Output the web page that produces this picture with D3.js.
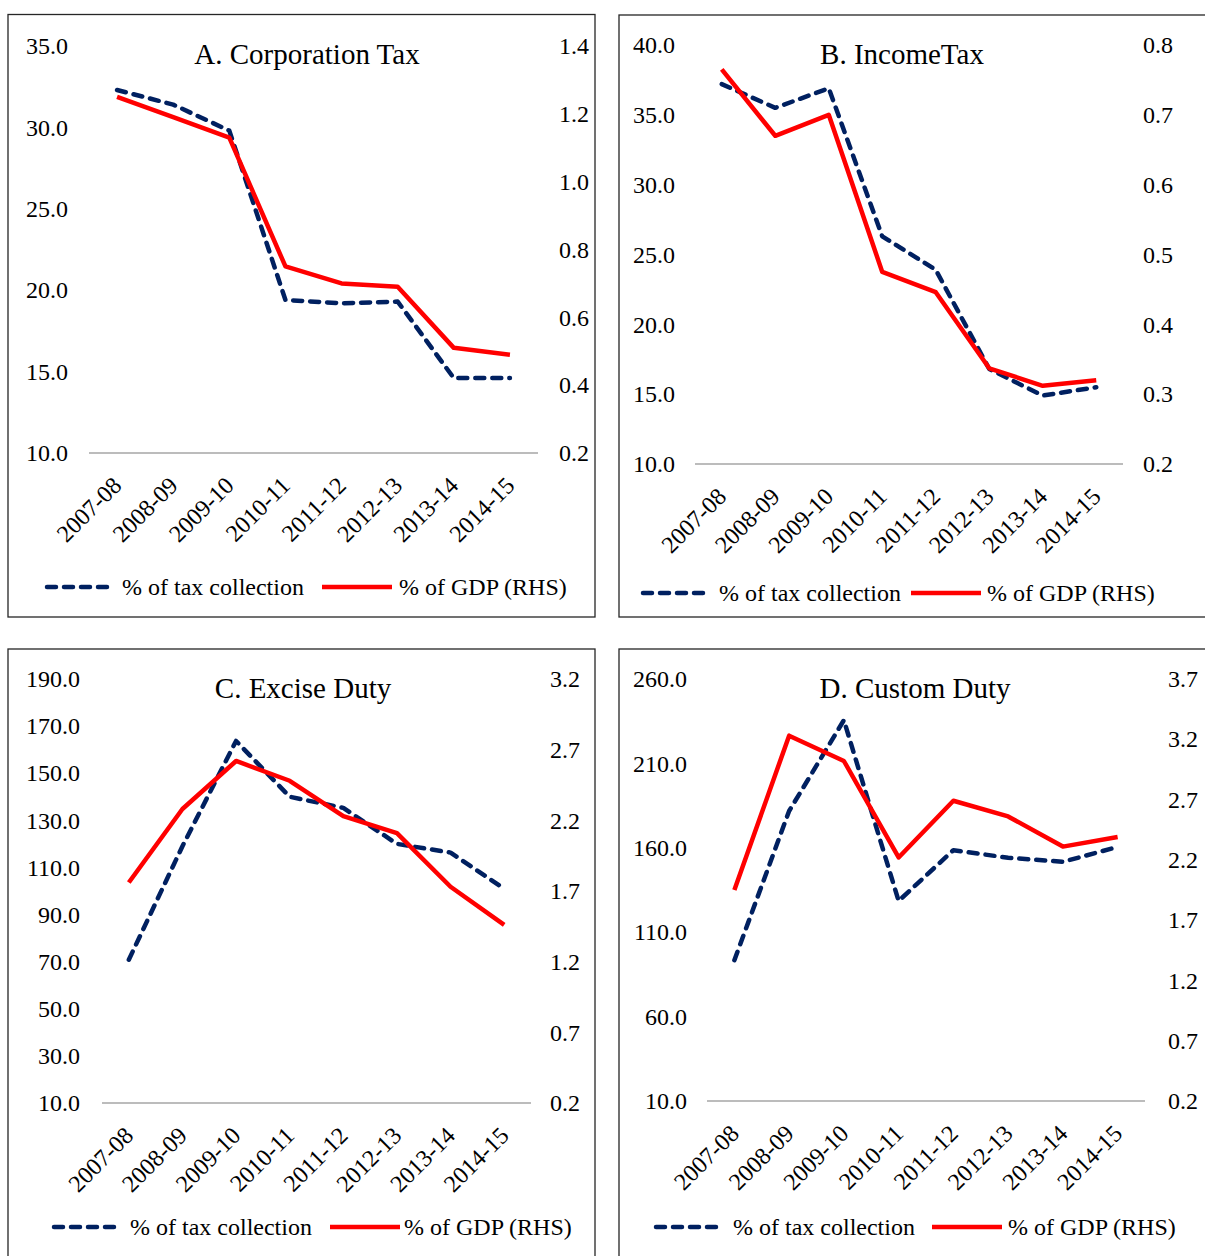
<!DOCTYPE html>
<html>
<head>
<meta charset="utf-8">
<script src="https://cdnjs.cloudflare.com/ajax/libs/d3/7.8.5/d3.min.js"></script>
<style>
  body { margin: 0; background: #fff; }
  svg { display: block; font-family: "Liberation Serif", "Times New Roman", serif; }
  .box { fill: none; stroke: #262626; stroke-width: 1.3; }
  .base { stroke: #a6a6a6; stroke-width: 1.6; }
  .tick text { font-size: 24px; fill: #000; }
  .cat text { font-size: 24px; fill: #000; }
  .title { font-size: 29px; text-anchor: middle; }
  .leg { font-size: 24px; }
  .share { fill: none; stroke: #002060; stroke-width: 4.5; stroke-dasharray: 9 8; stroke-linecap: round; stroke-linejoin: round; }
  .gdp { fill: none; stroke: #ff0000; stroke-width: 4.5; stroke-linejoin: round; }
</style>
</head>
<body>
<script>
//categories
var years = ["2007-08", "2008-09", "2009-10", "2010-11", "2011-12", "2012-13", "2013-14", "2014-15"];

//A. corporation tax
var corpShare = [32.3, 31.4, 29.8, 19.4, 19.2, 19.3, 14.6, 14.6];
var corpGdp = [1.25, 1.19, 1.13, 0.75, 0.70, 0.69, 0.51, 0.49];
var corpLeftTicks = [10, 15, 20, 25, 30, 35];
var corpRightTicks = [0.2, 0.4, 0.6, 0.8, 1.0, 1.2, 1.4];

//B. income tax
var incomeShare = [37.2, 35.5, 36.9, 26.3, 23.9, 16.8, 14.9, 15.5];
var incomeGdp = [0.765, 0.67, 0.70, 0.475, 0.446, 0.337, 0.312, 0.32];
var incomeLeftTicks = [10, 15, 20, 25, 30, 35, 40];
var incomeRightTicks = [0.2, 0.3, 0.4, 0.5, 0.6, 0.7, 0.8];

//C. excise duty
var exciseShare = [70.8, 119.0, 163.7, 140.0, 135.3, 120.0, 116.3, 101.0];
var exciseGdp = [1.76, 2.28, 2.62, 2.48, 2.23, 2.11, 1.73, 1.46];
var exciseLeftTicks = [10, 30, 50, 70, 90, 110, 130, 150, 170, 190];
var exciseRightTicks = [0.2, 0.7, 1.2, 1.7, 2.2, 2.7, 3.2];

//D. custom duty
var customShare = [93.4, 181.8, 235.6, 128.5, 158.6, 154.1, 151.7, 160.5];
var customGdp = [1.95, 3.23, 3.02, 2.22, 2.69, 2.56, 2.31, 2.39];
var customLeftTicks = [10, 60, 110, 160, 210, 260];
var customRightTicks = [0.2, 0.7, 1.2, 1.7, 2.2, 2.7, 3.2, 3.7];

var legendNames = ["% of tax collection", "% of GDP (RHS)"];

//panel layout
var panels = [
  { title: "A. Corporation Tax", share: corpShare, gdp: corpGdp, lt: corpLeftTicks, rt: corpRightTicks,
    box: [8, 14.5, 587, 602.5], x0: 89, x1: 538, top: 46, bottom: 453, lx: 68, rx: 559,
    tx: 307, ty: 64, legY: 587, leg: [45, 122, 322, 399] },
  { title: "B. IncomeTax", share: incomeShare, gdp: incomeGdp, lt: incomeLeftTicks, rt: incomeRightTicks,
    box: [619, 15, 600, 602], x0: 695, x1: 1123, top: 45, bottom: 464, lx: 675, rx: 1143,
    tx: 902, ty: 64, legY: 593, leg: [641, 719, 911, 987] },
  { title: "C. Excise Duty", share: exciseShare, gdp: exciseGdp, lt: exciseLeftTicks, rt: exciseRightTicks,
    box: [8, 649, 587, 620], x0: 102, x1: 531, top: 679, bottom: 1103, lx: 80, rx: 550,
    tx: 303, ty: 698, legY: 1227, leg: [52, 130, 330, 404] },
  { title: "D. Custom Duty", share: customShare, gdp: customGdp, lt: customLeftTicks, rt: customRightTicks,
    box: [619, 649, 600, 620], x0: 707, x1: 1145, top: 679, bottom: 1101, lx: 687, rx: 1168,
    tx: 915, ty: 698, legY: 1227, leg: [654, 733, 932, 1008] }
];

var svg = d3.select("body")
  .append("svg")
  .attr("width", 1205)
  .attr("height", 1256);

//drop the axis defaults so the page font applies
function plain(a){
  a.attr("font-family", null).attr("font-size", null);
  a.select(".domain").remove();
}

panels.forEach(function(p){
  var g = svg.append("g");

  g.append("rect")
    .attr("class", "box")
    .attr("x", p.box[0]).attr("y", p.box[1])
    .attr("width", p.box[2]).attr("height", p.box[3]);

  var x = d3.scaleBand().domain(years).range([p.x0, p.x1]).padding(0);
  var yL = d3.scaleLinear().domain([p.lt[0], p.lt[p.lt.length - 1]]).range([p.bottom, p.top]);
  var yR = d3.scaleLinear().domain([p.rt[0], p.rt[p.rt.length - 1]]).range([p.bottom, p.top]);
  var cx = function(d){ return x(d) + x.bandwidth() / 2; };

  //left axis labels
  g.append("g")
    .attr("transform", "translate(" + p.lx + ",0)")
    .call(d3.axisLeft(yL).tickValues(p.lt).tickSize(0).tickPadding(0).tickFormat(d3.format(".1f")))
    .call(plain);

  //right axis labels
  g.append("g")
    .attr("transform", "translate(" + p.rx + ",0)")
    .call(d3.axisRight(yR).tickValues(p.rt).tickSize(0).tickPadding(0).tickFormat(d3.format(".1f")))
    .call(plain);

  //baseline
  g.append("line")
    .attr("class", "base")
    .attr("x1", p.x0).attr("x2", p.x1)
    .attr("y1", p.bottom).attr("y2", p.bottom);

  //category labels
  var cat = g.append("g")
    .attr("class", "cat")
    .attr("transform", "translate(0," + p.bottom + ")")
    .call(d3.axisBottom(x).tickSize(0).tickPadding(0))
    .call(plain);
  cat.selectAll("text")
    .attr("y", 0).attr("dy", 0)
    .attr("text-anchor", "end")
    .attr("transform", "translate(6,34) rotate(-45)");

  //lines
  g.append("path")
    .datum(p.share)
    .attr("class", "share")
    .attr("d", d3.line().x(function(d, i){ return cx(years[i]); }).y(function(d){ return yL(d); }));

  g.append("path")
    .datum(p.gdp)
    .attr("class", "gdp")
    .attr("d", d3.line().x(function(d, i){ return cx(years[i]); }).y(function(d){ return yR(d); }));

  //title
  g.append("text")
    .attr("class", "title")
    .attr("x", p.tx).attr("y", p.ty)
    .text(p.title);

  //legend
  g.append("line")
    .attr("class", "share")
    .attr("x1", p.leg[0] + 2).attr("x2", p.leg[0] + 66)
    .attr("y1", p.legY).attr("y2", p.legY);
  g.append("text")
    .attr("class", "leg")
    .attr("x", p.leg[1]).attr("y", p.legY).attr("dy", "0.33em")
    .text(legendNames[0]);
  g.append("line")
    .attr("class", "gdp")
    .attr("x1", p.leg[2]).attr("x2", p.leg[2] + 70)
    .attr("y1", p.legY).attr("y2", p.legY);
  g.append("text")
    .attr("class", "leg")
    .attr("x", p.leg[3]).attr("y", p.legY).attr("dy", "0.33em")
    .text(legendNames[1]);
});
</script>
</body>
</html>
